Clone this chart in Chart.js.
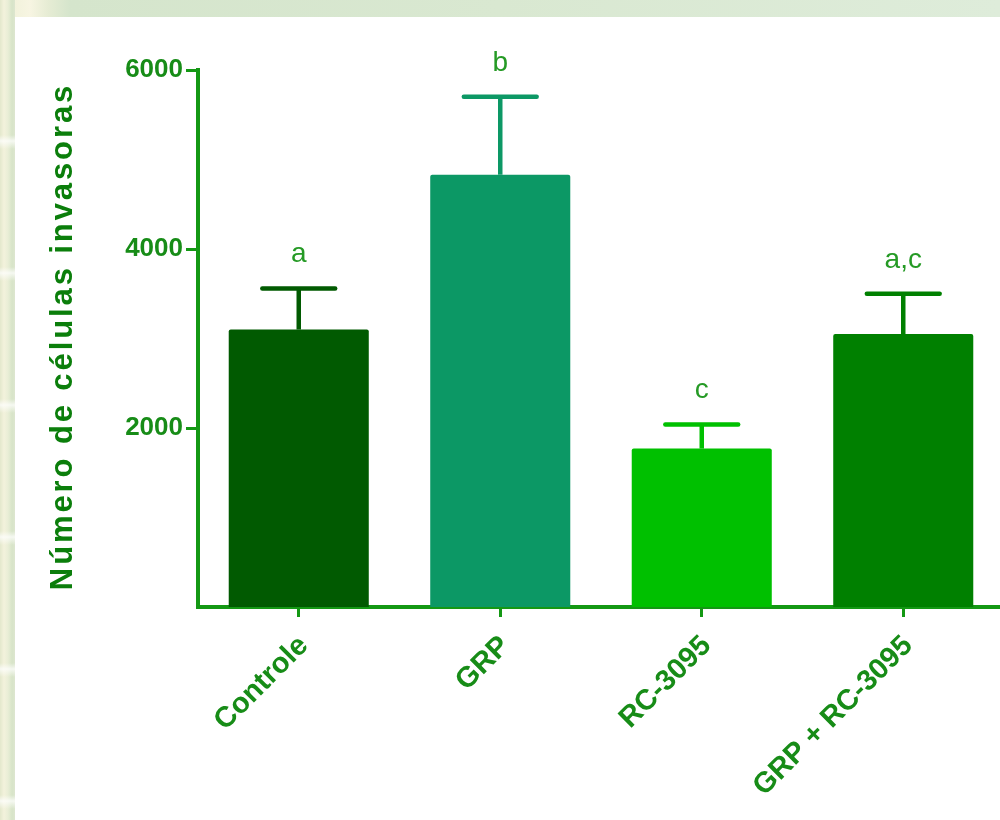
<!DOCTYPE html>
<html lang="pt">
<head>
<meta charset="utf-8">
<title>Número de células invasoras</title>
<script src="https://cdn.jsdelivr.net/npm/chart.js@4/dist/chart.umd.min.js"></script>
<style>
  html, body { margin: 0; padding: 0; width: 1000px; height: 820px; overflow: hidden; }
  body {
    position: relative;
    background:
      linear-gradient(90deg, #e3e8cc 0px, #f3f2dc 4px, #e9eed6 8px, #d7e4c8 12px, #dde6cf 15px, rgba(0,0,0,0) 15px),
      linear-gradient(90deg, #eef0d6 0px, #f7f5e2 30px, #e6ecd4 48px, #d5e5cc 70px, #d9e8d1 500px, #deecda 1000px);
  }
  #panel { position: absolute; left: 15px; top: 17px; right: 0; bottom: 0; background: #ffffff; }
  #bands {
    position: absolute; left: 0; top: 17px; width: 15px; bottom: 0;
    background: repeating-linear-gradient(180deg,
      rgba(255,255,255,0) 0px, rgba(255,255,255,0) 118px,
      rgba(255,255,255,0.75) 124px, rgba(255,255,255,0) 132px);
  }
  #wrap { position: absolute; left: 0; top: 0; width: 1004px; height: 820px; }
</style>
</head>
<body>
<div id="panel"></div>
<div id="bands"></div>
<div id="wrap"><canvas id="chart" width="1004" height="820"></canvas></div>
<script>
// Treatment groups and their mean counts of invading cells (+ SEM)
const groups = ['Controle', 'GRP', 'RC-3095', 'GRP + RC-3095'];
const means = [3100, 4830, 1770, 3050];
const sems = [460, 870, 270, 450];
const letters = ['a', 'b', 'c', 'a,c'];
const yTicks = [2000, 4000, 6000];
const barColors = ['#015a01', '#0c9865', '#00c000', '#008000'];

const axisColor = '#149814';
const labelColor = '#178c17';
const titleText = 'Número de células invasoras';

// Upward error bars plus the significance letters above each bar
const errorBarPlugin = {
  id: 'errorBars',
  afterDatasetsDraw(chart) {
    const ctx = chart.ctx;
    const y = chart.scales.y;
    const meta = chart.getDatasetMeta(0);
    ctx.save();
    meta.data.forEach((bar, i) => {
      const top = y.getPixelForValue(means[i]);
      const hi = y.getPixelForValue(means[i] + sems[i]);
      const half = bar.width * 0.26;
      ctx.strokeStyle = barColors[i];
      ctx.lineWidth = 4.5;
      ctx.lineCap = 'butt';
      ctx.beginPath();
      ctx.moveTo(bar.x, top);
      ctx.lineTo(bar.x, hi);
      ctx.stroke();
      ctx.lineCap = 'round';
      ctx.beginPath();
      ctx.moveTo(bar.x - half, hi);
      ctx.lineTo(bar.x + half, hi);
      ctx.stroke();

      ctx.fillStyle = '#259a25';
      ctx.font = '28px "Liberation Sans", Arial, sans-serif';
      ctx.textAlign = 'center';
      ctx.textBaseline = 'alphabetic';
      ctx.fillText(letters[i], bar.x, hi - 26);
    });
    ctx.restore();
  }
};

// Vertical axis title, set with a little tracking
const yTitlePlugin = {
  id: 'yTitle',
  afterDraw(chart) {
    const ctx = chart.ctx;
    const area = chart.chartArea;
    ctx.save();
    ctx.translate(63, (area.top + area.bottom) / 2 - 2);
    ctx.rotate(-Math.PI / 2);
    ctx.font = 'bold 31px "Liberation Sans", Arial, sans-serif';
    if ('letterSpacing' in ctx) ctx.letterSpacing = '2.9px';
    ctx.fillStyle = '#0b7e0b';
    ctx.textAlign = 'center';
    ctx.textBaseline = 'middle';
    ctx.fillText(titleText, 0, 0);
    ctx.restore();
  }
};

new Chart(document.getElementById('chart'), {
  type: 'bar',
  data: {
    labels: groups,
    datasets: [{
      data: means,
      backgroundColor: barColors,
      borderWidth: 0,
      borderRadius: { topLeft: 2, topRight: 2 },
      borderSkipped: 'bottom',
      categoryPercentage: 1.0,
      barPercentage: 0.695
    }]
  },
  options: {
    responsive: false,
    animation: false,
    devicePixelRatio: 1,
    layout: { padding: { top: 70, left: 0, right: 0, bottom: 0 } },
    plugins: { legend: { display: false }, tooltip: { enabled: false } },
    scales: {
      x: {
        offset: true,
        grid: {
          display: true,
          offset: false,
          drawOnChartArea: false,
          drawTicks: true,
          tickLength: 10,
          lineWidth: 3,
          color: axisColor
        },
        border: { display: true, color: axisColor, width: 4 },
        ticks: {
          color: labelColor,
          font: { family: '"Liberation Sans", Arial, sans-serif', size: 29, weight: 'bold' },
          minRotation: 45,
          maxRotation: 45,
          padding: 12,
          labelOffset: 5,
          autoSkip: false
        },
        afterFit(scale) { scale.height = 213; }
      },
      y: {
        min: 0,
        max: 6000,
        afterBuildTicks(scale) { scale.ticks = yTicks.map(v => ({ value: v })); },
        grid: {
          display: true,
          drawOnChartArea: false,
          drawTicks: true,
          tickLength: 12,
          lineWidth: 3,
          color: axisColor
        },
        border: { display: true, color: axisColor, width: 4 },
        ticks: {
          color: labelColor,
          font: { family: '"Liberation Sans", Arial, sans-serif', size: 26, weight: 'bold' },
          padding: 3,
          callback: v => String(v)
        },
        afterFit(scale) { scale.width = 198; }
      }
    }
  },
  plugins: [errorBarPlugin, yTitlePlugin]
});
</script>
</body>
</html>
